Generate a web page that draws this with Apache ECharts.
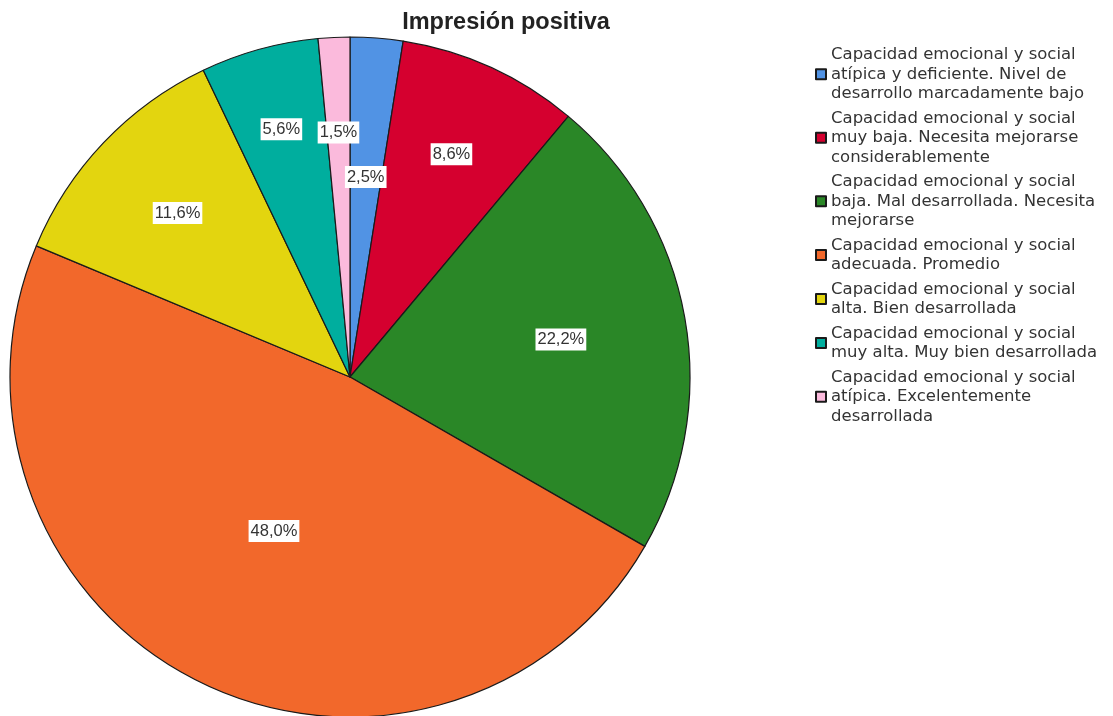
<!DOCTYPE html>
<html>
<head>
<meta charset="utf-8">
<script src="https://cdn.jsdelivr.net/npm/echarts@6/dist/echarts.min.js"></script>
<style>
html,body{margin:0;padding:0;background:#fff;}
#chart{width:1113px;height:716px;}
</style>
</head>
<body>
<div id="chart"></div>
<script>
const title = 'Impresión positiva';
const categories = [
  'Capacidad emocional y social\natípica y deficiente. Nivel de\ndesarrollo marcadamente bajo',
  'Capacidad emocional y social\nmuy baja. Necesita mejorarse\nconsiderablemente',
  'Capacidad emocional y social\nbaja. Mal desarrollada. Necesita\nmejorarse',
  'Capacidad emocional y social\nadecuada. Promedio',
  'Capacidad emocional y social\nalta. Bien desarrollada',
  'Capacidad emocional y social\nmuy alta. Muy bien desarrollada',
  'Capacidad emocional y social\natípica. Excelentemente\ndesarrollada'
];
const values = [2.5, 8.6, 22.2, 48.0, 11.6, 5.6, 1.5];
const colors = ['#5193e4', '#d5002f', '#2a8727', '#f2682b', '#e3d50f', '#00ae9e', '#fbbadc'];
// radial position of each label as a fraction of the radius (style)
const labelRadiusFrac = [0.59, 0.72, 0.63, 0.505, 0.70, 0.756, 0.72];

const CX = 350, CY = 377, R = 340;
const total = values.reduce((a, b) => a + b, 0);
const cumBefore = [];
values.reduce((acc, v, i) => { cumBefore[i] = acc; return acc + v; }, 0);

const chart = echarts.init(document.getElementById('chart'), null, {renderer: 'canvas'});
chart.setOption({
  animation: false,
  backgroundColor: '#ffffff',
  title: {
    text: title,
    left: 501,
    textAlign: 'center',
    top: 6,
    textStyle: {fontFamily: 'Liberation Sans', fontWeight: 'bold', fontSize: 23.5, color: '#222'}
  },
  legend: {
    orient: 'vertical',
    left: 815,
    top: 45,
    padding: 0,
    itemWidth: 10,
    itemHeight: 10,
    itemGap: 5,
    icon: 'rect',
    selectedMode: false,
    textStyle: {fontFamily: 'DejaVu Sans', fontSize: 16.5, lineHeight: 19.5, color: '#333'},
    data: categories
  },
  series: [{
    type: 'pie',
    center: [CX, CY],
    radius: [0, R],
    startAngle: 90,
    clockwise: true,
    avoidLabelOverlap: false,
    color: colors,
    itemStyle: {borderColor: '#1a1a1a', borderWidth: 1.2},
    emphasis: {disabled: true},
    labelLine: {show: false},
    label: {
      show: true,
      position: 'inside',
      formatter: p => p.value.toFixed(1).replace('.', ',') + '%',
      fontFamily: 'Liberation Sans',
      fontSize: 16.5,
      color: '#333',
      backgroundColor: '#ffffff',
      padding: [3, 2, 2, 2]
    },
    labelLayout: function (params) {
      const i = params.dataIndex;
      const mid = (cumBefore[i] + values[i] / 2) / total * Math.PI * 2;
      const r = labelRadiusFrac[i] * R;
      return {
        x: CX + r * Math.sin(mid),
        y: CY - r * Math.cos(mid),
        align: 'center',
        verticalAlign: 'middle'
      };
    },
    data: categories.map((c, i) => ({name: c, value: values[i]}))
  }]
});
</script>
</body>
</html>
